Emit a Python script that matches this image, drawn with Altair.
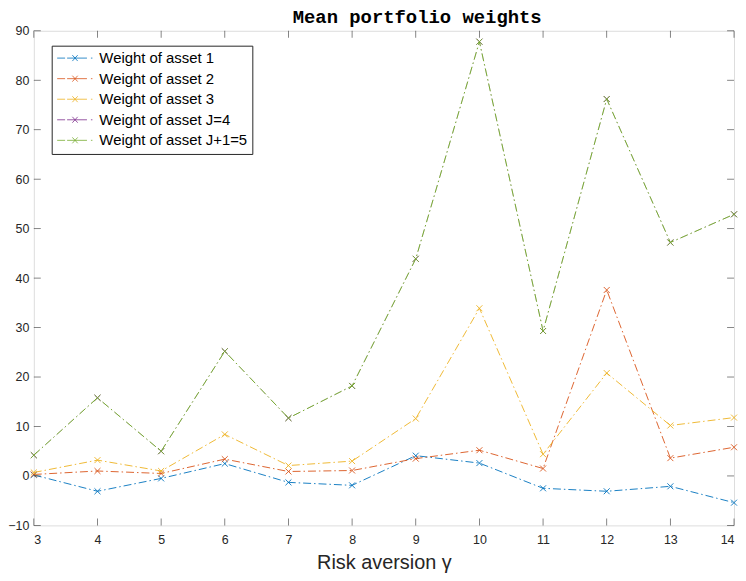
import altair as alt
import pandas as pd

# ---- data ----
gammas = [3, 4, 5, 6, 7, 8, 9, 10, 11, 12, 13, 14]
w_asset1 = [0.2, -3.1, -0.5, 2.5, -1.3, -1.9, 4.1, 2.6, -2.5, -3.1, -2.1, -5.4]
w_asset2 = [0.3, 1.0, 0.5, 3.4, 0.9, 1.1, 3.5, 5.2, 1.5, 37.6, 3.6, 5.8]
w_asset3 = [0.7, 3.2, 1.0, 8.4, 2.1, 3.0, 11.6, 33.9, 4.4, 20.8, 10.2, 11.8]
w_asset4 = [4.2, 15.8, 5.0, 25.2, 11.7, 18.2, 43.9, 87.8, 29.3, 76.2, 47.2, 52.9]
w_asset5 = [4.2, 15.8, 5.0, 25.2, 11.7, 18.2, 43.9, 87.8, 29.3, 76.2, 47.2, 52.9]

series_names = [
    "Weight of asset 1",
    "Weight of asset 2",
    "Weight of asset 3",
    "Weight of asset J=4",
    "Weight of asset J+1=5",
]
series_colors = ["#0072BD", "#D95319", "#EDB120", "#7E2F8E", "#77AC30"]
line_widths = [0.9, 0.9, 0.9, 0.3, 1.0]
x_ticks = list(range(3, 15))
y_ticks = list(range(-10, 91, 10))
chart_title = ["Mean portfolio weights"]

all_w = [w_asset1, w_asset2, w_asset3, w_asset4, w_asset5]
rows = []
for k, (name, ws) in enumerate(zip(series_names, all_w)):
    for g, w in zip(gammas, ws):
        rows.append({"gamma": g, "w": w, "series": name, "k": k})
df = pd.DataFrame(rows)
df_yt = pd.DataFrame({"v": y_ticks})
df_xt = pd.DataFrame({"v": x_ticks})
df_title = pd.DataFrame({"t": chart_title})

AX = "#262626"
FONT = "Liberation Sans"
XMARK = "M-1,-1L1,1M-1,1L1,-1"
LEG_SYM = "M-3,0L3,0M-0.45,-0.5L0.45,0.5M-0.45,0.5L0.45,-0.5"

xscale = alt.Scale(domain=[3, 14], nice=False, zero=False)
yscale = alt.Scale(domain=[-10, 90], nice=False, zero=False)
cscale = alt.Scale(domain=series_names, range=series_colors)

xaxis = alt.Axis(values=x_ticks, format="d", ticks=False, domain=False, grid=False,
                 labelFontSize=12.5, labelFont=FONT, labelColor=AX, labelPadding=8,
                 title="Risk aversion γ", titleFont=FONT, titleFontSize=20,
                 titleFontWeight="normal", titleColor=AX, titlePadding=7)
yaxis = alt.Axis(values=y_ticks, format="d", ticks=False, domain=False, grid=False,
                 labelFontSize=12.5, labelFont=FONT, labelColor=AX, labelPadding=5,
                 title=None)

legend = alt.Legend(
    title=None, orient="none", legendX=18, legendY=15,
    strokeColor=AX, fillColor="white", padding=5,
    labelFont=FONT, labelFontSize=15, labelColor="black",
    symbolType=LEG_SYM, symbolSize=144, symbolStrokeWidth=0.8,
    symbolDash=[8, 2, 20, 4, 1.5, 10], symbolOffset=11, labelOffset=17,
    rowPadding=4.7, labelLimit=300,
)


def lines(data, with_legend, sw):
    return alt.Chart(data).mark_line(strokeDash=[8, 3, 1.5, 3], strokeWidth=sw).encode(
        x=alt.X("gamma:Q", scale=xscale, axis=xaxis),
        y=alt.Y("w:Q", scale=yscale, axis=yaxis),
        color=alt.Color("series:N", scale=cscale, sort=series_names,
                        legend=legend if with_legend else None),
        detail="k:N",
    )


def points(data):
    return alt.Chart(data).mark_point(shape=XMARK, filled=False, size=36, strokeWidth=0.9, opacity=1).encode(
        x=alt.X("gamma:Q", scale=xscale),
        y=alt.Y("w:Q", scale=yscale),
        color=alt.Color("series:N", scale=cscale, sort=series_names, legend=None),
    )


layers = []
for k, name in enumerate(series_names):
    sub = df[df["series"] == name]
    layers.append(lines(sub, k == 0, line_widths[k]))
    layers.append(points(sub))

tick_kw = dict(size=7, thickness=0.8, color=AX)
t_left = alt.Chart(df_yt).mark_tick(orient="horizontal", xOffset=3.5, **tick_kw).encode(
    x=alt.datum(3, scale=xscale), y=alt.Y("v:Q", scale=yscale))
t_right = alt.Chart(df_yt).mark_tick(orient="horizontal", xOffset=-3.5, **tick_kw).encode(
    x=alt.datum(14), y=alt.Y("v:Q", scale=yscale))
t_bottom = alt.Chart(df_xt).mark_tick(orient="vertical", yOffset=-3.5, **tick_kw).encode(
    x=alt.X("v:Q", scale=xscale), y=alt.datum(-10))
t_top = alt.Chart(df_xt).mark_tick(orient="vertical", yOffset=3.5, **tick_kw).encode(
    x=alt.X("v:Q", scale=xscale), y=alt.datum(90))

title_mark = alt.Chart(df_title).mark_text(
    font="Liberation Mono", fontSize=19, fontWeight="bold", color="black",
    align="center", baseline="alphabetic",
).encode(text="t:N", x=alt.value(386), y=alt.value(-8))

chart = alt.layer(*layers, t_left, t_right, t_bottom, t_top, title_mark).properties(
    width=705, height=498,
    autosize=alt.AutoSizeParams(type="none"),
    padding={"left": 26, "top": 21, "right": 4, "bottom": 50},
).configure_view(stroke=AX, strokeWidth=1).configure(background="white")

chart.save("out.html", embed_options={"renderer": "svg", "actions": False})
